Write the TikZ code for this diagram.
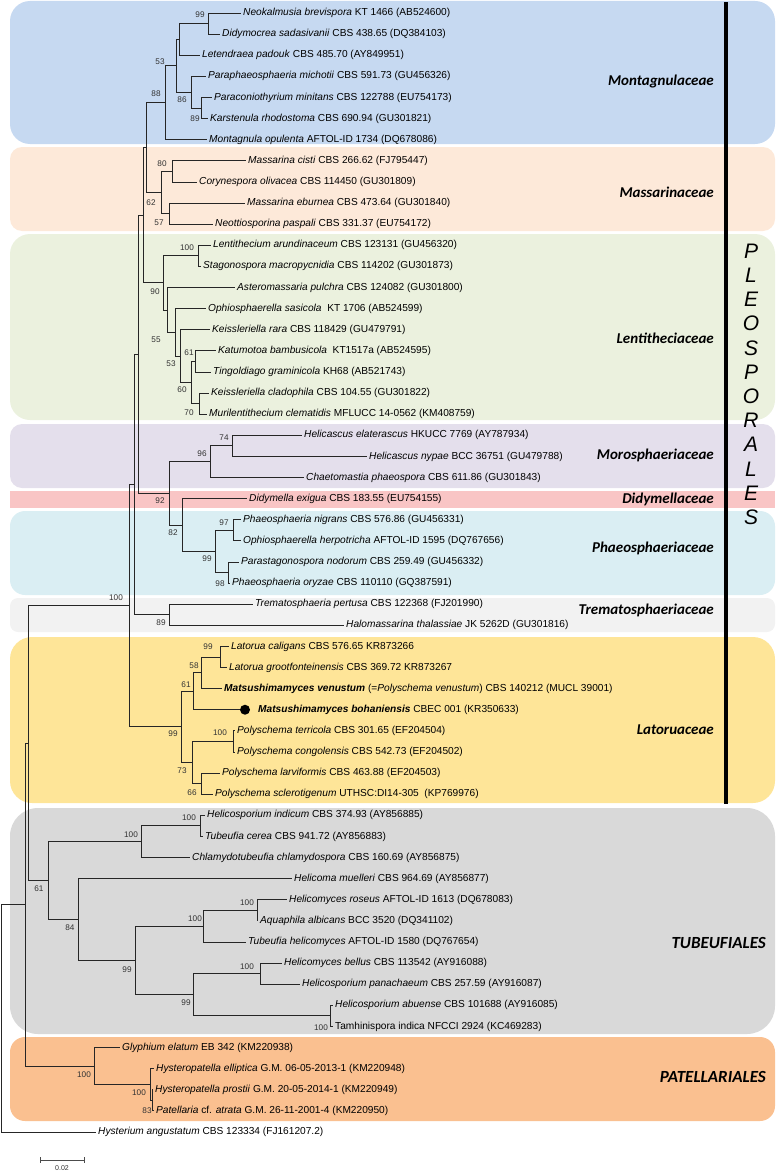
\documentclass[tikz,border=0pt]{standalone}
\usepackage{fontspec}
\setmainfont{Liberation Sans}
\newfontfamily\famfont{Carlito}
\usetikzlibrary{calc}
\definecolor{cblue}{HTML}{C6D9F1}
\definecolor{cpeach}{HTML}{FDE9D9}
\definecolor{cgreen}{HTML}{EBF1DE}
\definecolor{clav}{HTML}{E4DFEC}
\definecolor{cpink}{HTML}{F9C5C5}
\definecolor{cltblue}{HTML}{DAEEF3}
\definecolor{cltgray}{HTML}{F2F2F2}
\definecolor{cyellow}{HTML}{FEE598}
\definecolor{cgray}{HTML}{D9D9D9}
\definecolor{corange}{HTML}{FAC090}
\newcommand\tx[3]{\coordinate (t#1) at ({#2-2.5},{ry(#1)}); \node[tax] (l#1) at ([xshift=1pt]t#1) {#3};}
\newcommand\cl[4]{\path let \p1=(#3), \p2=(#4) in coordinate (#1) at (#2,{0.5*(\y1+\y2)});
  \draw[br] (#1) |- (#3); \draw[br] (#1) |- (#4);}
\begin{document}
\begin{tikzpicture}[x=1pt,y=1pt,
  declare function={ry(\i)=-(13+21.113*(\i-1));},
  br/.style={draw=black!85, line width=0.8pt},
  tax/.style={anchor=west, inner xsep=1.5pt, inner ysep=0pt, font=\fontsize{10.15}{10.5}\selectfont},
  bs/.style={font=\fontsize{8.2}{9}\selectfont, text=black!80, inner sep=0pt},
  fam/.style={anchor=east, inner sep=0pt, font=\famfont\bfseries\itshape\fontsize{15}{16}\selectfont},
  ord/.style={anchor=east, inner sep=0pt, font=\famfont\bfseries\itshape\fontsize{17}{18}\selectfont},
  pleo/.style={inner sep=0pt, font=\itshape\fontsize{21}{21}\selectfont},
  bx/.style={rounded corners=#1},
]
\useasboundingbox (0,0) rectangle (777,-1172);
% background boxes
\fill[cblue, bx=20pt] (10,-1) rectangle (775,-144);
\fill[cpeach, bx=12pt] (10,-147) rectangle (775,-231);
\fill[cgreen, bx=20pt] (10,-234) rectangle (775,-420);
\fill[clav, bx=12pt] (10,-424) rectangle (775,-488);
\fill[cpink] (10,-491) rectangle (775,-508);
\fill[cltblue, bx=15pt] (10,-511) rectangle (775,-595);
\fill[cltgray, bx=8pt] (10,-598) rectangle (775,-632);
\fill[cyellow, bx=22pt] (10,-637) rectangle (775,-803);
\fill[cgray, bx=28pt] (10,-808) rectangle (775,-1034);
\fill[corange, bx=15pt] (10,-1037) rectangle (775,-1121);
% Pleosporales bar
\fill[black] (723.5,-2) rectangle (727.5,-804);
\foreach \c [count=\i] in {P,L,E,O,S,P,O,R,A,L,E,S}
  \node[pleo] (pl\i) at (751,{-251-24.2*(\i-1)}) {\c};
% family labels
\node[fam] (fMont) at (714,-82) {Montagnulaceae};
\node[fam] (fMass) at (714,-192) {Massarinaceae};
\node[fam] (fLent) at (714,-338) {Lentitheciaceae};
\node[fam] (fMoro) at (714,-455) {Morosphaeriaceae};
\node[fam] (fDidy) at (714,-499) {Didymellaceae};
\node[fam] (fPhae) at (714,-548) {Phaeosphaeriaceae};
\node[fam] (fTrem) at (714,-610) {Trematosphaeriaceae};
\node[fam] (fLato) at (714,-730) {Latoruaceae};
\node[ord] (fTube) at (766,-943) {TUBEUFIALES};
\node[ord] (fPate) at (766,-1077) {PATELLARIALES};
% taxa
\tx{1}{243}{\textit{Neokalmusia brevispora} KT 1466 (AB524600)}
\tx{2}{222}{\textit{Didymocrea sadasivanii} CBS 438.65 (DQ384103)}
\tx{3}{202}{\textit{Letendraea padouk} CBS 485.70 (AY849951)}
\tx{4}{208}{\textit{Paraphaeosphaeria michotii} CBS 591.73 (GU456326)}
\tx{5}{214}{\textit{Paraconiothyrium minitans} CBS 122788 (EU754173)}
\tx{6}{210}{\textit{Karstenula rhodostoma} CBS 690.94 (GU301821)}
\tx{7}{209}{\textit{Montagnula opulenta} AFTOL-ID 1734 (DQ678086)}
\tx{8}{248}{\textit{Massarina cisti} CBS 266.62 (FJ795447)}
\tx{9}{199}{\textit{Corynespora olivacea} CBS 114450 (GU301809)}
\tx{10}{247}{\textit{Massarina eburnea} CBS 473.64 (GU301840)}
\tx{11}{215}{\textit{Neottiosporina paspali} CBS 331.37 (EU754172)}
\tx{12}{213}{\textit{Lentithecium arundinaceum} CBS 123131 (GU456320)}
\tx{13}{203}{\textit{Stagonospora macropycnidia} CBS 114202 (GU301873)}
\tx{14}{237}{\textit{Asteromassaria pulchra} CBS 124082 (GU301800)}
\tx{15}{208}{\textit{Ophiosphaerella sasicola}\ \ KT 1706 (AB524599)}
\tx{16}{212}{\textit{Keissleriella rara} CBS 118429 (GU479791)}
\tx{17}{218}{\textit{Katumotoa bambusicola}\ \ KT1517a (AB524595)}
\tx{18}{213}{\textit{Tingoldiago graminicola} KH68 (AB521743)}
\tx{19}{211}{\textit{Keissleriella cladophila} CBS 104.55 (GU301822)}
\tx{20}{209}{\textit{Murilentithecium clematidis} MFLUCC 14-0562 (KM408759)}
\tx{21}{304}{\textit{Helicascus elaterascus} HKUCC 7769 (AY787934)}
\tx{22}{369}{\textit{Helicascus nypae} BCC 36751 (GU479788)}
\tx{23}{306}{\textit{Chaetomastia phaeospora} CBS 611.86 (GU301843)}
\tx{24}{249}{\textit{Didymella exigua} CBS 183.55 (EU754155)}
\tx{25}{243}{\textit{Phaeosphaeria nigrans} CBS 576.86 (GU456331)}
\tx{26}{243}{\textit{Ophiosphaerella herpotricha} AFTOL-ID 1595 (DQ767656)}
\tx{27}{241}{\textit{Parastagonospora nodorum} CBS 259.49 (GU456332)}
\tx{28}{232}{\textit{Phaeosphaeria oryzae} CBS 110110 (GQ387591)}
\tx{29}{255}{\textit{Trematosphaeria pertusa} CBS 122368 (FJ201990)}
\tx{30}{346}{\textit{Halomassarina thalassiae} JK 5262D (GU301816)}
\tx{31}{231}{\textit{Latorua caligans} CBS 576.65 KR873266}
\tx{32}{229}{\textit{Latorua grootfonteinensis} CBS 369.72 KR873267}
\tx{33}{224}{\textbf{\textit{Matsushimamyces venustum}} (=\textit{Polyschema venustum}) CBS 140212 (MUCL 39001)}
\coordinate (t34) at (240,{ry(34)});
\node[circle, fill=black, inner sep=0pt, minimum size=10pt] (dot34) at (245,{ry(34)}) {};
\node[tax] (l34) at (256.5,{ry(34)}) {\textbf{\textit{Matsushimamyces bohaniensis}} CBEC 001 (KR350633)};
\tx{35}{237}{\textit{Polyschema terricola} CBS 301.65 (EF204504)}
\tx{36}{237}{\textit{Polyschema congolensis} CBS 542.73 (EF204502)}
\tx{37}{222}{\textit{Polyschema larviformis} CBS 463.88 (EF204503)}
\tx{38}{215}{\textit{Polyschema sclerotigenum} UTHSC:DI14-305\ \ (KP769976)}
\tx{39}{207}{\textit{Helicosporium indicum} CBS 374.93 (AY856885)}
\tx{40}{205}{\textit{Tubeufia cerea} CBS 941.72 (AY856883)}
\tx{41}{192}{\textit{Chlamydotubeufia chlamydospora} CBS 160.69 (AY856875)}
\tx{42}{294}{\textit{Helicoma muelleri} CBS 964.69 (AY856877)}
\tx{43}{289}{\textit{Helicomyces roseus} AFTOL-ID 1613 (DQ678083)}
\tx{44}{260}{\textit{Aquaphila albicans} BCC 3520 (DQ341102)}
\tx{45}{248}{\textit{Tubeufia helicomyces} AFTOL-ID 1580 (DQ767654)}
\tx{46}{284}{\textit{Helicomyces bellus} CBS 113542 (AY916088)}
\tx{47}{302}{\textit{Helicosporium panachaeum} CBS 257.59 (AY916087)}
\tx{48}{335}{\textit{Helicosporium abuense} CBS 101688 (AY916085)}
\tx{49}{335}{Tamhinispora indica NFCCI 2924 (KC469283)}
\tx{50}{122}{\textit{Glyphium elatum} EB 342 (KM220938)}
\tx{51}{156}{\textit{Hysteropatella elliptica} G.M. 06-05-2013-1 (KM220948)}
\tx{52}{155}{\textit{Hysteropatella prostii} G.M. 20-05-2014-1 (KM220949)}
\tx{53}{156}{\textit{Patellaria} cf. \textit{atrata} G.M. 26-11-2001-4 (KM220950)}
\tx{54}{98}{\textit{Hysterium angustatum} CBS 123334 (FJ161207.2)}
% tree
\cl{n99a}{208}{t1}{t2}
\cl{nX}{179}{n99a}{t3}
\cl{n89}{201}{t5}{t6}
\cl{n86}{191}{t4}{n89}
\cl{n53}{176}{nX}{n86}
\cl{n88}{165}{n53}{t7}
\cl{n80}{172}{t8}{t9}
\cl{n57}{169}{t10}{t11}
\cl{n62}{161}{n80}{n57}
\cl{na}{146}{n88}{n62}
\cl{n100b}{198}{t12}{t13}
\cl{n61}{195}{t17}{t18}
\cl{n70}{199}{t19}{t20}
\cl{n60}{191}{n61}{n70}
\cl{n53b}{180}{t16}{n60}
\cl{n55}{175}{t15}{n53b}
\cl{nq}{167}{t14}{n55}
\cl{n90}{163}{n100b}{nq}
\cl{nb}{143}{na}{n90}
\cl{n74}{232}{t21}{t22}
\cl{n96}{210}{n74}{t23}
\cl{n97}{233}{t25}{t26}
\cl{n98}{228.5}{t27}{t28}
\cl{n99b}{215}{n97}{n98}
\cl{n82}{182}{t24}{n99b}
\cl{n92}{169}{n96}{n82}
\cl{nb2}{138}{nb}{n92}
\cl{n89b}{169}{t29}{t30}
\cl{nb3}{134}{nb2}{n89b}
\cl{n99c}{220}{t31}{t32}
\cl{n58}{201}{n99c}{t33}
\cl{n61c}{193}{n58}{t34}
\cl{n100c}{233}{t35}{t36}
\cl{n66}{201}{t37}{t38}
\cl{n73}{192}{n100c}{n66}
\cl{n99d}{181}{n61c}{n73}
\cl{npl}{129}{nb3}{n99d}
\cl{n100d}{200}{t39}{t40}
\cl{n100e}{141}{n100d}{t41}
\cl{n100f}{257}{t43}{t44}
\cl{n100g}{203}{n100f}{t45}
\cl{n100h}{260}{t46}{t47}
\cl{n100i}{330}{t48}{t49}
\cl{n99f}{193}{n100h}{n100i}
\cl{n99e}{135}{n100g}{n99f}
\cl{n84}{78}{t42}{n99e}
\cl{n61t}{48}{n100e}{n84}
\cl{npt}{28}{npl}{n61t}
\cl{n83}{152}{t52}{t53}
\cl{n100j}{150}{t51}{n83}
\cl{n100k}{94}{t50}{n100j}
\cl{ning}{25}{npt}{n100k}
\cl{root}{1}{ning}{t54}
% bootstrap values
\node[bs] (b1) at (200,-15) {99};
\node[bs] (b2) at (160,-62) {53};
\node[bs] (b3) at (156,-94) {88};
\node[bs] (b4) at (182,-100) {86};
\node[bs] (b5) at (195,-119) {89};
\node[bs] (b6) at (162,-164) {80};
\node[bs] (b7) at (151,-203) {62};
\node[bs] (b8) at (159,-223) {57};
\node[bs] (b9) at (187,-248) {100};
\node[bs] (b10) at (155,-292) {90};
\node[bs] (b11) at (156,-340) {55};
\node[bs] (b12) at (189,-353) {61};
\node[bs] (b13) at (171,-364) {53};
\node[bs] (b14) at (182,-390) {60};
\node[bs] (b15) at (189,-413) {70};
\node[bs] (b16) at (224,-438) {74};
\node[bs] (b17) at (202,-454) {96};
\node[bs] (b18) at (160,-501) {92};
\node[bs] (b19) at (224,-523) {97};
\node[bs] (b20) at (173,-533) {82};
\node[bs] (b21) at (207,-559) {99};
\node[bs] (b22) at (220,-584) {98};
\node[bs] (b23) at (116,-598) {100};
\node[bs] (b24) at (161,-623) {89};
\node[bs] (b25) at (208,-647) {99};
\node[bs] (b26) at (194,-666) {58};
\node[bs] (b27) at (186,-685) {61};
\node[bs] (b28) at (220,-733) {100};
\node[bs] (b29) at (173,-734) {99};
\node[bs] (b30) at (182,-771) {73};
\node[bs] (b31) at (192,-793) {66};
\node[bs] (b32) at (189,-818) {100};
\node[bs] (b33) at (131,-835) {100};
\node[bs] (b34) at (39,-889) {61};
\node[bs] (b35) at (247,-903) {100};
\node[bs] (b36) at (195,-919) {100};
\node[bs] (b37) at (70,-928) {84};
\node[bs] (b38) at (127,-970) {99};
\node[bs] (b39) at (247,-967) {100};
\node[bs] (b40) at (186,-1003) {99};
\node[bs] (b41) at (321,-1028) {100};
\node[bs] (b42) at (84,-1075) {100};
\node[bs] (b43) at (139,-1093) {100};
\node[bs] (b44) at (147,-1111) {83};
% scale bar
\coordinate (sb1) at (40,-1160);
\coordinate (sb2) at (84,-1160);
\draw[black!70, line width=0.6pt] (sb1) -- (sb2);
\draw[black!70, line width=0.6pt] ([yshift=3pt]sb1) -- ([yshift=-3pt]sb1);
\draw[black!70, line width=0.6pt] ([yshift=3pt]sb2) -- ([yshift=-3pt]sb2);
\node[inner sep=0pt, font=\fontsize{7}{7}\selectfont, text=black!80] (sbl) at (62,-1168) {0.02};
\end{tikzpicture}
\end{document}
